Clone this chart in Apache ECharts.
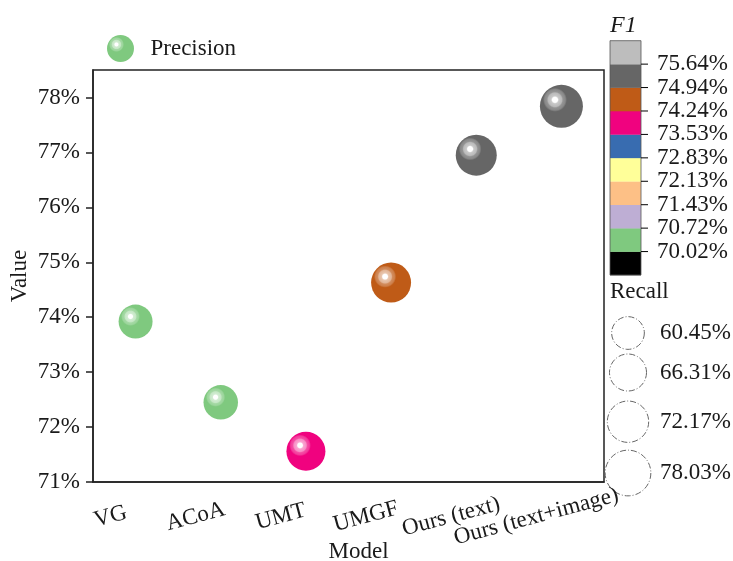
<!DOCTYPE html>
<html>
<head>
<meta charset="utf-8">
<script src="https://cdn.jsdelivr.net/npm/echarts@6/dist/echarts.min.js"></script>
<style>
  html, body { margin: 0; padding: 0; background: #fff; }
  #chart { width: 733px; height: 561px; }
</style>
</head>
<body>
<div id="chart"></div>
<script>
// data
var models = ['VG', 'ACoA', 'UMT', 'UMGF', 'Ours (text)', 'Ours (text+image)'];
var precision = [73.92, 72.45, 71.56, 74.63, 76.95, 77.84];
var recall = [62.2, 62.9, 69.0, 70.3, 71.7, 74.4];
var f1 = [70.45, 70.35, 73.9, 74.6, 75.3, 75.6];

var yTicks = [71, 72, 73, 74, 75, 76, 77, 78];
var f1Ticks = [70.02, 70.72, 71.43, 72.13, 72.83, 73.53, 74.24, 74.94, 75.64];
var f1Colors = ['#000000', '#7fc97f', '#beaed4', '#fdc086', '#ffff99', '#386cb0', '#f0027f', '#bf5b17', '#666666', '#bdbdbd'];
var recallTicks = [60.45, 66.31, 72.17, 78.03];

var FONT = 'Liberation Serif';
var TXT = '#1a1a1a';

function sizeOf(r) { return 32.7 + (r - 60.45) * 0.74; }

function colorOf(v) {
  var k = 0;
  while (k < f1Ticks.length && v >= f1Ticks[k]) k++;
  return f1Colors[k];
}

function mix(c, t, a) {
  var p = function (h, i) { return parseInt(h.substr(1 + i * 2, 2), 16); };
  var out = '#';
  for (var i = 0; i < 3; i++) {
    var v = Math.round(p(c, i) * (1 - a) + p(t, i) * a);
    out += ('0' + v.toString(16)).slice(-2);
  }
  return out;
}

// glossy ball: white spot, light ring, mid ring, then the base colour
function sphere(c) {
  return {
    type: 'radial', x: 0.35, y: 0.35, r: 0.75,
    colorStops: [
      { offset: 0, color: '#ffffff' },
      { offset: 0.08, color: '#ffffff' },
      { offset: 0.12, color: mix(c, '#ffffff', 0.65) },
      { offset: 0.21, color: mix(c, '#ffffff', 0.55) },
      { offset: 0.25, color: mix(c, '#ffffff', 0.3) },
      { offset: 0.32, color: mix(c, '#ffffff', 0.22) },
      { offset: 0.37, color: c },
      { offset: 0.9, color: c },
      { offset: 1, color: mix(c, '#000000', 0.08) }
    ]
  };
}

// colour bar + recall size legend
var graphics = [];
var cbX = 610, cbTop = 40.7, cbW = 31, segH = 23.43;
graphics.push({
  type: 'text', left: 610, top: 14,
  style: { text: 'F1', font: 'italic 24px "' + FONT + '"', fill: TXT }
});
for (var i = 0; i < f1Colors.length; i++) {
  graphics.push({
    type: 'rect',
    shape: { x: cbX, y: cbTop + (f1Colors.length - 1 - i) * segH, width: cbW, height: segH + 0.3 },
    style: { fill: f1Colors[i] }
  });
}
graphics.push({
  type: 'rect',
  shape: { x: cbX, y: cbTop, width: cbW, height: segH * f1Colors.length },
  style: { fill: 'none', stroke: '#555', lineWidth: 0.8 }
});
f1Ticks.forEach(function (t, i) {
  var y = cbTop + (f1Colors.length - 1 - i) * segH;
  graphics.push({
    type: 'line', shape: { x1: cbX + cbW, y1: y, x2: cbX + cbW + 7, y2: y },
    style: { stroke: '#000', lineWidth: 1 }
  });
  graphics.push({
    type: 'text', x: 657, y: y,
    style: { text: t.toFixed(2) + '%', font: '23px "' + FONT + '"', fill: TXT, verticalAlign: 'middle' }
  });
});

graphics.push({
  type: 'text', x: 610, y: 292,
  style: { text: 'Recall', font: '23px "' + FONT + '"', fill: TXT, verticalAlign: 'middle' }
});
var recallY = [333, 372.5, 421.7, 473];
recallTicks.forEach(function (r, i) {
  graphics.push({
    type: 'circle', shape: { cx: 628, cy: recallY[i], r: sizeOf(r) / 2 },
    style: { fill: 'none', stroke: '#666', lineWidth: 1, lineDash: [6, 2, 1, 2] }
  });
  graphics.push({
    type: 'text', x: 660, y: recallY[i],
    style: { text: r.toFixed(2) + '%', font: '23px "' + FONT + '"', fill: TXT, verticalAlign: 'middle' }
  });
});

var points = models.map(function (m, i) {
  return {
    value: [i, precision[i]],
    symbolSize: sizeOf(recall[i]),
    itemStyle: { color: sphere(colorOf(f1[i])) }
  };
});

var myChart = echarts.init(document.getElementById('chart'));
myChart.setOption({
  animation: false,
  textStyle: { fontFamily: FONT },
  grid: {
    left: 93, right: 129, top: 70, bottom: 79, show: true,
    borderColor: '#222', borderWidth: 1.5, outerBoundsMode: 'none', containLabel: false
  },
  legend: {
    left: 102, top: 30, itemWidth: 50, itemHeight: 27, icon: 'circle',
    textStyle: { fontFamily: FONT, fontSize: 23, color: TXT },
    data: ['Precision']
  },
  xAxis: {
    type: 'category', data: models, boundaryGap: true,
    name: 'Model', nameLocation: 'middle', nameGap: 58, nameMoveOverlap: false,
    nameTextStyle: { fontFamily: FONT, fontSize: 23, color: TXT, padding: [0, 0, 0, 20] },
    axisLine: { lineStyle: { color: '#222', width: 1.5 } },
    axisTick: { alignWithLabel: true, length: 8, lineStyle: { color: '#222', width: 1.5 } },
    axisLabel: {
      interval: 0, rotate: 15, align: 'center', verticalAlign: 'middle',
      padding: [0, 52, 0, 0], margin: 28, hideOverlap: false,
      fontFamily: FONT, fontSize: 23, color: TXT
    },
    splitLine: { show: false }
  },
  yAxis: {
    type: 'value', min: 71, max: 78.5,
    name: 'Value', nameLocation: 'middle', nameGap: 62, nameMoveOverlap: false,
    nameTextStyle: { fontFamily: FONT, fontSize: 23, color: TXT },
    axisLine: { show: true, lineStyle: { color: '#222', width: 1.5 } },
    axisTick: { show: true, length: 7, customValues: yTicks, lineStyle: { color: '#222', width: 1.5 } },
    axisLabel: {
      customValues: yTicks, margin: 13,
      formatter: function (v) { return v + '%'; },
      fontFamily: FONT, fontSize: 23, color: TXT
    },
    splitLine: { show: false }
  },
  series: [{
    name: 'Precision', type: 'scatter',
    itemStyle: { color: sphere('#7fc97f'), opacity: 1 },
    data: points
  }],
  graphic: graphics
});
</script>
</body>
</html>
